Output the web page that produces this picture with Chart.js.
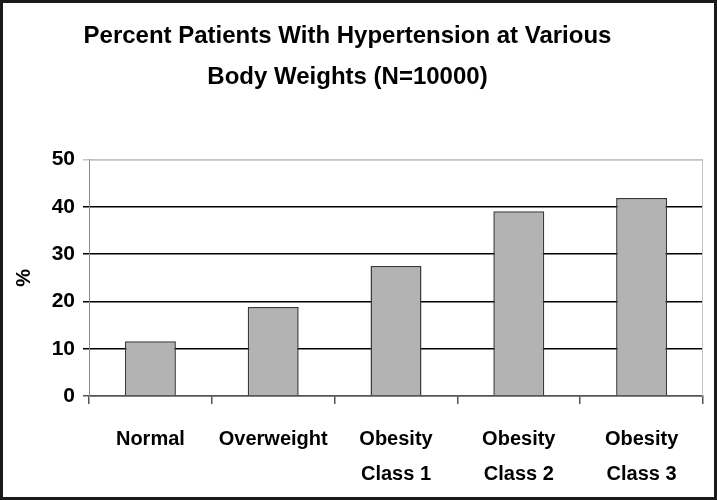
<!DOCTYPE html>
<html>
<head>
<meta charset="utf-8">
<script src="https://cdn.jsdelivr.net/npm/chart.js@4"></script>
<style>
  html, body { margin: 0; padding: 0; background: #fff; }
  #box { width: 717px; height: 500px; box-sizing: border-box; border: 3px solid #1a1a1a; background: #fff; }
  #box canvas { display: block; }
</style>
</head>
<body>
<div id="box"><canvas id="chart" width="711" height="494"></canvas></div>
<script>
const categories = [["Normal"], ["Overweight"], ["Obesity", "Class 1"], ["Obesity", "Class 2"], ["Obesity", "Class 3"]];
const percentValues = [11.6, 18.8, 27.5, 39.1, 41.9];
const yTicks = [0, 10, 20, 30, 40, 50];
const titleLines = ["Percent Patients With Hypertension at Various", "Body Weights (N=10000)"];

const FONT = "'Liberation Sans', Arial, sans-serif";

// light grey frame round the plot area
const plotFrame = {
    id: 'plotFrame',
    afterLayout(chart) {
        // title sits a little left of the canvas centre in the original
        if (chart.titleBlock) {
            chart.titleBlock.left -= 10;
            chart.titleBlock.right -= 10;
        }
    },
    beforeDatasetsDraw(chart) {
        const a = chart.chartArea;
        const ctx = chart.ctx;
        ctx.save();
        ctx.strokeStyle = '#c4c4c4';
        ctx.lineWidth = 1;
        ctx.beginPath();
        ctx.moveTo(a.left, a.top + 0.5);
        ctx.lineTo(a.right - 0.5, a.top + 0.5);
        ctx.lineTo(a.right - 0.5, a.bottom);
        ctx.stroke();
        ctx.restore();
    }
};

new Chart(document.getElementById('chart'), {
    type: 'bar',
    data: {
        labels: categories,
        datasets: [{
            data: percentValues,
            backgroundColor: '#b3b3b3',
            borderColor: '#3a3a3a',
            borderWidth: 1.5,
            categoryPercentage: 1,
            barPercentage: 0.415
        }]
    },
    options: {
        responsive: false,
        animation: false,
        layout: { padding: { left: 9, right: 11, top: 0, bottom: 0 } },
        plugins: {
            legend: { display: false },
            tooltip: { enabled: false },
            title: {
                display: true,
                text: titleLines,
                color: '#000',
                font: { family: FONT, size: 24, weight: 'bold', lineHeight: 1.7 },
                padding: { top: 13, bottom: 62 }
            }
        },
        scales: {
            x: {
                grid: {
                    offset: true,
                    drawOnChartArea: false,
                    color: '#555',
                    lineWidth: 1.5,
                    tickLength: 8
                },
                border: { color: '#555', width: 1.5 },
                ticks: {
                    color: '#000',
                    padding: 18,
                    maxRotation: 0,
                    font: { family: FONT, size: 20, weight: 'bold', lineHeight: 1.75 }
                },
                afterFit(scale) { scale.height = 101; }
            },
            y: {
                min: 0,
                max: 50,
                afterBuildTicks(scale) { scale.ticks = yTicks.map(v => ({ value: v })); },
                grid: {
                    color: ctx => ctx.tick.value === 50 ? '#c4c4c4' : (ctx.tick.value === 0 ? '#555' : '#000'),
                    lineWidth: 1.5,
                    tickLength: 6
                },
                border: { color: '#888', width: 1 },
                ticks: {
                    color: '#000',
                    padding: 8,
                    font: { family: FONT, size: 21, weight: 'bold' }
                },
                title: {
                    display: true,
                    text: '%',
                    color: '#000',
                    font: { family: FONT, size: 20, weight: 'bold' },
                    padding: 0
                },
                afterFit(scale) { scale.width = 77; }
            }
        }
    },
    plugins: [plotFrame]
});
</script>
</body>
</html>
